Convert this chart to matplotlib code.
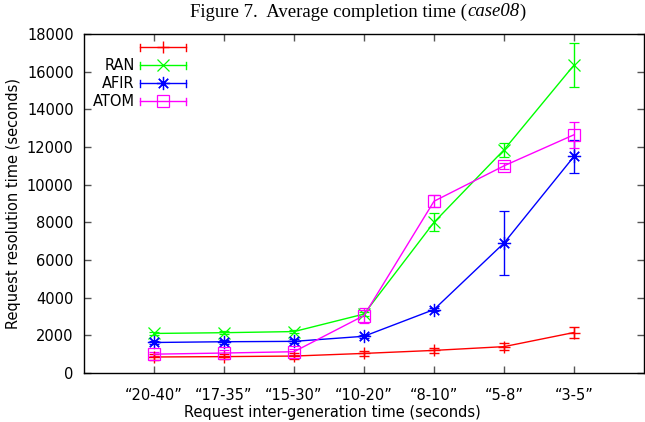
import matplotlib
matplotlib.use("Agg")
import matplotlib.pyplot as plt
from matplotlib.legend_handler import HandlerBase
from matplotlib.lines import Line2D

categories = ["\u201c20-40\u201d", "\u201c17-35\u201d", "\u201c15-30\u201d", "\u201c10-20\u201d",
              "\u201c8-10\u201d", "\u201c5-8\u201d", "\u201c3-5\u201d"]

unnamed_vals = [850, 870, 900, 1040, 1200, 1400, 2150]
unnamed_err = [180, 150, 150, 150, 120, 200, 280]
ran_vals = [2100, 2140, 2200, 3130, 8000, 11850, 16350]
ran_err = [80, 80, 80, 120, 480, 380, 1150]
afir_vals = [1620, 1660, 1680, 1950, 3370, 6900, 11500]
afir_err = [100, 100, 100, 80, 100, 1680, 880]
atom_vals = [1000, 1060, 1130, 3050, 9120, 11000, 12650]
atom_err = [120, 150, 150, 400, 320, 150, 700]

series = [
    ("", unnamed_vals, unnamed_err, "#ff0000", "+", 8, 1.0),
    ("RAN", ran_vals, ran_err, "#00ff00", "x", 8.5, 0.9),
    ("AFIR", afir_vals, afir_err, "#0000ff", (8, 2, 0), 9.5, 0.9),
    ("ATOM", atom_vals, atom_err, "#ff00ff", "s", 8.5, 0.9),
]

FS = 10.5

fig = plt.figure(figsize=(6.45, 4.22), dpi=100)
ax = fig.add_axes([84 / 645, 1 - 373 / 422, 560 / 645, 339 / 422])

x = list(range(1, len(categories) + 1))
handles = []
for label, vals, errs, color, marker, ms, mew in series:
    c = ax.errorbar(x, vals, yerr=errs, color=color, marker=marker, markersize=ms,
                    markeredgewidth=mew, mfc="none", mec=color, lw=1.0,
                    elinewidth=1.0, capsize=3.5, capthick=1.0, label=label)
    handles.append(c)


class HandlerGP(HandlerBase):
    def create_artists(self, legend, orig_handle, xdescent, ydescent, width, height,
                       fontsize, trans):
        line = orig_handle[0]
        color = line.get_color()
        y = height / 2 - ydescent
        x0 = -xdescent
        x1 = -xdescent + width
        cap = 0.35 * height
        arts = [
            Line2D([x0, x1], [y, y], color=color, lw=1.0, transform=trans),
            Line2D([x0, x0], [y - cap, y + cap], color=color, lw=1.0, transform=trans),
            Line2D([x1, x1], [y - cap, y + cap], color=color, lw=1.0, transform=trans),
            Line2D([(x0 + x1) / 2], [y], marker=line.get_marker(), markersize=line.get_markersize(),
                   mfc="none", mec=color, markeredgewidth=line.get_markeredgewidth(),
                   linestyle="none", transform=trans),
        ]
        return arts


leg = ax.legend(handles=handles, labels=[s[0] for s in series],
                handler_map={type(handles[0]): HandlerGP()},
                loc="upper left", frameon=False,
                markerfirst=False, fontsize=FS, handlelength=3.15, handletextpad=0.4,
                labelspacing=0.2, borderaxespad=0.0, borderpad=0.45)
leg.set_bbox_to_anchor((2 / 560, 1.0), transform=ax.transAxes)

ax.set_xlim(0, 8)
ax.set_ylim(0, 18000)
ax.set_xticks(x)
ax.set_xticklabels(categories, fontsize=FS)
ax.set_yticks(range(0, 18001, 2000))
ax.tick_params(axis="both", direction="in", top=True, right=True, length=5,
               width=1.0, color="#555555", labelsize=FS)
ax.tick_params(axis="x", pad=10.5)
ax.tick_params(axis="y", pad=7.5)
for sp in ax.spines.values():
    sp.set_linewidth(1.0)
    sp.set_color("black")

ax.set_xlabel("Request inter-generation time (seconds)", fontsize=FS, labelpad=1)
ax.xaxis.set_label_coords((332 - 84) / 560, -(412 - 373) / 339)
ax.xaxis.label.set_va("center")
ax.set_ylabel("Request resolution time (seconds)", fontsize=FS)
ax.yaxis.set_label_coords(-(84 - 14) / 560, 0.5)
ax.yaxis.label.set_va("center")

# Title in three pieces so that "case08" is fully italic
title_parts = [("Figure 7.  Average completion time (", "normal"),
               ("case08", "italic"),
               (")", "normal")]
fig.canvas.draw()
renderer = fig.canvas.get_renderer()
texts = []
widths = []
for s, st in title_parts:
    t = fig.text(0, 1 - 12 / 422, s, ha="left", va="center", fontsize=13.5,
                 family="Liberation Serif", style=st)
    bb = t.get_window_extent(renderer)
    texts.append(t)
    widths.append(bb.width)
total = sum(widths)
xpix = 358 - total / 2
for t, w in zip(texts, widths):
    t.set_x(xpix / 645)
    xpix += w

fig.savefig("out.png", dpi=100)
